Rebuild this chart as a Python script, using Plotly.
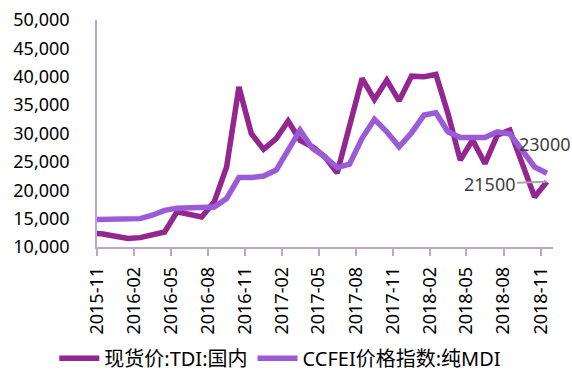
import pandas as pd
import plotly.graph_objects as go

# Monthly observations (the first month sits just left of the visible range and is clipped)
months = [
    "2015-10", "2015-11", "2015-12", "2016-01", "2016-02", "2016-03", "2016-04",
    "2016-05", "2016-06", "2016-07", "2016-08", "2016-09", "2016-10", "2016-11",
    "2016-12", "2017-01", "2017-02", "2017-03", "2017-04", "2017-05", "2017-06",
    "2017-07", "2017-08", "2017-09", "2017-10", "2017-11", "2017-12", "2018-01",
    "2018-02", "2018-03", "2018-04", "2018-05", "2018-06", "2018-07", "2018-08",
    "2018-09", "2018-10", "2018-11",
]

tdi_domestic = [
    12450, 12300, 11900, 11500, 11650, 12100, 12650,
    16200, 15750, 15300, 17950, 24100, 38200, 30000,
    27200, 29100, 32200, 28800, 27650, 25900, 23050,
    31400, 39700, 36000, 39400, 35750, 40100, 40000,
    40400, 33550, 25300, 28850, 24700, 29700, 30600,
    24700, 18800, 21500,
]

mdi_index = [
    14800, 14850, 15000, 15000, 15000, 15600, 16450,
    16850, 16900, 16900, 17050, 18550, 22250, 22250,
    22500, 23550, 27050, 30600, 27350, 25900, 24000,
    24600, 29150, 32500, 30300, 27650, 30100, 33250,
    33650, 30300, 29300, 29300, 29300, 30300, 29900,
    27050, 24100, 23000,
]

tick_months = ["2015-11", "2016-02", "2016-05", "2016-08", "2016-11", "2017-02",
               "2017-05", "2017-08", "2017-11", "2018-02", "2018-05", "2018-08",
               "2018-11"]

series_names = ["现货价:TDI:国内", "CCFEI价格指数:纯MDI"]
series_colors = ["#93278F", "#9B5BD7"]
axis_color = "#BFA6C9"
font_family = "Noto Sans, Noto Sans CJK SC, sans-serif"


def month_mid(m):
    p = pd.Period(m, freq="M")
    start = p.start_time
    end = (p + 1).start_time
    return (start + (end - start) / 2).strftime("%Y-%m-%d %H:%M")


fig = go.Figure()
for name, vals, col in zip(series_names, [tdi_domestic, mdi_index], series_colors):
    fig.add_trace(go.Scatter(
        x=months, y=vals, name=name, mode="lines",
        xperiod="M1", xperiodalignment="middle",
        line=dict(color=col, width=5.5),
    ))

last_month = months[-1]
fig.add_annotation(
    x=month_mid(last_month), y=mdi_index[-1], text=str(mdi_index[-1]),
    showarrow=False, xshift=-2, yshift=29,
    font=dict(family=font_family, size=18, color="#404040"),
)
fig.add_annotation(
    x=month_mid(last_month), y=tdi_domestic[-1], text=str(tdi_domestic[-1]),
    showarrow=True, arrowhead=0, arrowwidth=2, arrowcolor="#A6A6A6",
    ax=-57, ay=2, standoff=0,
    font=dict(family=font_family, size=18, color="#404040"),
)

fig.update_layout(
    width=572, height=374,
    margin=dict(l=97, r=19, t=20, b=127),
    paper_bgcolor="white", plot_bgcolor="white",
    font=dict(family=font_family, size=18, color="#000000"),
    showlegend=True,
    legend=dict(
        orientation="h", xref="container", yref="container",
        x=0.49, xanchor="center", y=0.042, yanchor="middle",
        font=dict(family=font_family, size=20, color="#000000"),
        itemwidth=40, tracegroupgap=0,
    ),
)

fig.update_xaxes(
    type="date",
    automargin=False,
    range=["2015-11-01", "2018-12-01"],
    tickvals=[m + "-01" for m in tick_months],
    ticktext=tick_months,
    tickangle=-90,
    ticks="outside", ticklen=7, tickwidth=1.5, tickcolor=axis_color,
    showline=True, linecolor=axis_color, linewidth=1.5,
    showgrid=False, zeroline=False,
    ticklabelstandoff=4,
    tickfont=dict(family=font_family, size=18, color="#000000"),
)

fig.update_yaxes(
    automargin=False,
    range=[10000, 50000],
    tickvals=[10000, 15000, 20000, 25000, 30000, 35000, 40000, 45000, 50000],
    tickformat=",d",
    showline=True, linecolor=axis_color, linewidth=1.5,
    ticks="", showgrid=False, zeroline=False,
    ticklabelstandoff=22,
    tickfont=dict(family=font_family, size=18, color="#000000"),
)

fig.write_html("out.html")
